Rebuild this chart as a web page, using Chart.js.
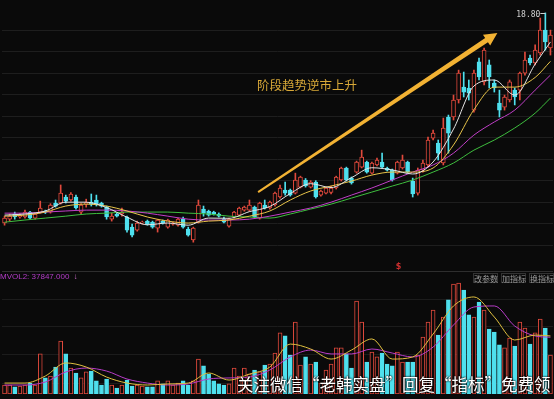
<!DOCTYPE html>
<html lang="zh-CN">
<head>
<meta charset="utf-8">
<script src="https://cdn.jsdelivr.net/npm/chart.js@4.4.1/dist/chart.umd.min.js"></script>
<style>
  html, body { margin: 0; padding: 0; background: #0a0a0a; }
  #wrap { position: relative; width: 554px; height: 399px; overflow: hidden; background: #0a0a0a; }
  #priceChart { position: absolute; left: 0; top: 0; }
  #volChart { position: absolute; left: 0; top: 271px; }
  .lbl { position: absolute; white-space: nowrap; }
  #volLabel { left: 0; top: 272px; font: 8px "Liberation Sans", sans-serif; color: #b43cc8; }
  #volLabel span { color: #d070d0; margin-left: 4px; }
  .btn { top: 273px; width: 25px; height: 10px; text-align: center; font: 8px/10px "Noto Sans CJK SC"; color: #9a9a9a; border: 1px solid #333; box-sizing: border-box; }
  #watermark { left: 237px; top: 372px; font: 16.5px "Noto Sans CJK SC"; color: #fff; text-shadow: 0 0 2px #000, 0 0 2px #000; }
</style>
</head>
<body>
<div id="wrap">
  <canvas id="priceChart" width="554" height="271"></canvas>
  <canvas id="volChart" width="554" height="128"></canvas>
  <div class="lbl" id="volLabel">MVOL2: 37847.000<span>↓</span></div>
  <div class="lbl btn" style="left:473px">改参数</div>
  <div class="lbl btn" style="left:501px">加指标</div>
  <div class="lbl btn" style="left:529px">换指标</div>
  <div class="lbl" id="watermark">关注微信“老韩实盘”回复“指标”免费领</div>
</div>
<script>
const days = Array.from({ length: 108 }, (_, i) => "D" + (i + 1));

const open = [9.03,9.21,9.45,9.31,9.31,9.54,9.26,9.54,9.58,9.54,
  9.96,9.96,10.24,10.10,10.24,9.54,9.91,10.00,10.10,9.96,
  9.77,9.21,9.45,9.45,9.31,8.84,8.70,9.03,9.12,9.07,
  8.79,9.12,8.84,8.98,8.93,9.21,8.75,8.24,9.07,9.68,
  9.58,9.54,9.45,9.21,8.89,9.31,9.40,9.63,9.63,9.77,
  9.26,9.87,9.73,9.87,10.24,10.56,10.56,10.42,10.70,11.03,
  10.70,10.94,10.33,10.42,10.45,10.66,11.03,11.59,11.12,11.40,
  11.63,11.86,11.35,11.73,11.86,11.59,11.49,11.35,11.59,11.86,
  10.98,10.42,11.49,11.73,12.98,12.75,11.82,13.96,13.96,14.75,
  15.35,15.31,14.28,16.52,15.59,16.38,15.54,14.61,14.42,14.75,
  15.21,15.21,16.00,16.70,16.47,16.94,18.00,17.17];

const high = [9.35,9.45,9.54,9.47,9.63,9.58,9.50,10.05,9.63,9.93,
  10.10,10.80,10.33,10.45,10.33,9.93,10.14,10.38,10.33,10.00,
  9.82,9.49,9.50,9.73,9.35,8.98,9.12,9.12,9.17,9.12,
  9.21,9.17,9.21,9.07,9.26,9.31,8.84,8.84,10.10,9.82,
  9.63,9.58,9.50,9.31,9.26,9.58,9.77,9.82,10.10,9.82,
  10.00,10.10,10.05,10.47,10.80,10.94,10.61,11.35,11.21,11.10,
  11.00,11.00,10.56,10.70,10.75,11.21,11.63,11.63,11.17,11.91,
  12.42,11.91,11.86,12.05,12.28,11.63,11.54,11.91,12.19,11.91,
  11.12,11.59,11.96,13.03,13.35,12.89,13.91,14.05,14.98,16.14,
  16.05,15.68,16.14,16.70,17.17,16.61,15.68,15.21,14.98,15.68,
  15.31,16.05,16.98,16.84,17.31,18.56,18.80,18.00];

const low = [8.93,9.12,9.21,9.26,9.26,9.21,9.21,9.49,9.47,9.49,
  9.77,9.91,9.96,10.05,9.68,9.45,9.77,9.82,9.82,9.77,
  9.21,9.12,9.31,9.35,8.61,8.38,8.65,8.98,8.93,8.79,
  8.61,8.98,8.79,8.93,8.89,8.79,8.42,8.14,9.03,9.35,
  9.35,9.40,9.31,9.03,8.84,9.26,9.35,9.58,9.58,9.26,
  9.21,9.68,9.68,9.82,10.19,10.33,10.28,10.38,10.66,10.70,
  10.66,10.19,10.28,10.38,10.38,10.61,10.98,10.98,10.84,11.35,
  11.59,11.35,11.31,11.68,11.59,11.45,10.98,11.31,11.54,11.35,
  10.24,10.33,11.40,11.63,12.89,11.96,11.73,12.28,13.82,14.61,
  14.89,14.75,14.19,15.68,15.45,15.31,15.12,13.96,14.28,14.66,
  14.52,14.75,15.91,16.38,16.38,16.84,17.07,16.84];

const close = [9.26,9.35,9.31,9.40,9.54,9.26,9.45,9.73,9.54,9.87,
  9.82,10.42,10.05,10.38,9.73,9.87,9.98,9.91,9.91,9.82,
  9.31,9.35,9.35,9.54,8.70,8.47,9.03,9.07,8.98,8.84,
  9.17,9.03,9.17,9.03,9.21,8.84,8.47,8.79,9.87,9.49,
  9.40,9.45,9.35,9.07,9.21,9.54,9.73,9.77,9.87,9.31,
  9.96,9.73,10.00,10.42,10.66,10.42,10.33,11.03,11.17,10.75,
  10.94,10.24,10.52,10.66,10.66,11.17,11.59,11.03,10.89,11.86,
  12.10,11.40,11.82,11.96,11.63,11.49,11.03,11.86,11.96,11.40,
  10.38,11.49,11.82,12.89,13.21,12.28,13.45,13.21,14.75,16.00,
  15.12,15.07,16.00,15.82,17.07,15.82,15.31,14.28,14.89,15.59,
  14.89,16.00,16.61,16.47,17.07,18.00,17.45,17.77];

const volume = [6000,6000,4700,5300,6000,7300,6000,26700,10700,12000,
  18000,35300,26700,17300,14000,10700,14700,15300,8700,6000,
  10000,6000,4000,6000,9300,5300,6000,5300,4700,4700,
  8700,6700,8700,6000,7300,8700,6000,8700,23300,18700,
  13300,8700,6700,6000,6700,17300,12000,17300,13300,16000,
  14700,19300,20000,27300,40700,38700,26000,48000,19300,24700,
  20000,21300,7300,16000,20000,30700,30700,26700,17300,62000,
  48000,21300,28000,24700,27300,20000,18700,28000,21300,21300,
  21300,26000,38000,48000,56000,39300,51300,62700,73300,74000,
  69300,52700,51300,61300,56000,43300,41300,32700,30700,37300,
  32000,48000,44000,33300,40700,50000,44000,26000];

// moving-average lines, read at these day positions
const maIdx = [0,4,8,12,16,20,24,28,32,36,40,44,48,52,56,60,64,68,72,76,80,84,88,92,96,100,104,107];
const ma5  = [9.40,9.45,9.59,10.00,10.00,9.75,9.30,8.95,9.03,8.93,9.26,9.25,9.56,9.80,10.40,10.86,10.68,11.14,11.60,11.50,11.31,11.87,13.40,15.40,15.68,14.98,16.42,17.45];
const ma10 = [9.35,9.40,9.54,9.82,9.91,9.82,9.59,9.31,9.12,9.03,9.12,9.17,9.35,9.59,10.10,10.52,10.75,10.98,11.26,11.40,11.40,11.59,12.66,14.30,15.35,15.35,15.80,16.55];
const ma20 = [9.49,9.49,9.54,9.59,9.63,9.63,9.59,9.49,9.35,9.21,9.17,9.17,9.21,9.35,9.54,9.73,10.00,10.33,10.66,11.03,11.40,11.73,12.28,13.12,13.73,14.28,15.21,15.91];
const ma60 = [9.07,9.17,9.26,9.35,9.45,9.49,9.54,9.54,9.54,9.49,9.45,9.35,9.31,9.26,9.45,9.68,9.91,10.19,10.47,10.75,11.03,11.40,11.82,12.42,12.89,13.45,14.14,14.84];
const volMa5  = [7300,7300,12000,20700,18000,11300,7300,6000,6700,7300,14000,9300,13300,18000,33300,30000,23300,29300,36700,23300,24700,40000,58700,64700,51300,36000,39300,38700];
const volMa10 = [6000,6000,8000,14700,17300,15300,10000,7300,6000,6700,10000,10700,11300,16000,24700,29300,26700,26700,30000,27300,24700,31300,46000,58000,58700,45300,38700,37847];

const volGridLines = [7300, 26000, 44700, 63300, 82000];

const RED = "#e0493c";
const CYAN = "#4fe0ee";
const BG = "#0a0a0a";
const up = close.map((c, i) => c >= open[i]);

function sparse(vals) {
  const out = days.map(() => null);
  maIdx.forEach((k, j) => { out[k] = vals[j]; });
  return out;
}

function maLine(vals, color) {
  return {
    type: "line", data: sparse(vals), borderColor: color, borderWidth: 1,
    pointRadius: 0, spanGaps: true, cubicInterpolationMode: "monotone", order: 0
  };
}

// arrow, caption, high label
const priceNotes = {
  id: "priceNotes",
  afterDatasetsDraw(chart) {
    const { ctx, scales: { x, y } } = chart;
    ctx.save();

    const x0 = x.getPixelForValue(49.7), y0 = y.getPixelForValue(10.47);
    const x1 = x.getPixelForValue(96.6), y1 = y.getPixelForValue(17.87);
    const len = Math.hypot(x1 - x0, y1 - y0);
    const dx = (x1 - x0) / len, dy = (y1 - y0) / len;
    const nx = -dy, ny = dx;
    const headLen = 13, headW = 6.5;
    const bx = x1 - dx * headLen, by = y1 - dy * headLen;
    ctx.fillStyle = "#f2b233";
    ctx.beginPath();
    ctx.moveTo(x0 + nx * 1, y0 + ny * 1);
    ctx.lineTo(bx + nx * 2.5, by + ny * 2.5);
    ctx.lineTo(bx + nx * headW, by + ny * headW);
    ctx.lineTo(x1, y1);
    ctx.lineTo(bx - nx * headW, by - ny * headW);
    ctx.lineTo(bx - nx * 2.5, by - ny * 2.5);
    ctx.lineTo(x0 - nx * 1, y0 - ny * 1);
    ctx.closePath();
    ctx.fill();

    ctx.font = '12.5px "Noto Sans CJK SC"';
    ctx.fillStyle = "#d8a838";
    ctx.textBaseline = "middle";
    ctx.textAlign = "left";
    ctx.fillText("阶段趋势逆市上升", x.getPixelForValue(49.5), y.getPixelForValue(15.45));

    const maxHigh = Math.max(...high);
    const hi = high.indexOf(maxHigh);
    const hx = x.getPixelForValue(hi), hy = y.getPixelForValue(maxHigh);
    ctx.strokeStyle = "#d0d0d0";
    ctx.lineWidth = 1;
    ctx.beginPath();
    ctx.moveTo(hx - 5, Math.round(hy) + 0.5);
    ctx.lineTo(hx, Math.round(hy) + 0.5);
    ctx.stroke();
    ctx.font = '8px "DejaVu Sans Mono"';
    ctx.fillStyle = "#d0d0d0";
    ctx.textAlign = "right";
    ctx.fillText(maxHigh.toFixed(2), hx - 5, hy + 2);

    ctx.font = 'bold 8px "DejaVu Sans"';
    ctx.fillStyle = "#d03030";
    ctx.textAlign = "center";
    ctx.fillText("$", x.getPixelForValue(77.2), y.getPixelForValue(7.0));
    ctx.restore();
  }
};

new Chart(document.getElementById("priceChart"), {
  type: "bar",
  data: {
    labels: days,
    datasets: [
      maLine(ma5, "#e6e6e6"),
      maLine(ma10, "#e8c44a"),
      maLine(ma20, "#c13fc8"),
      maLine(ma60, "#3fbf3f"),
      {
        data: days.map((_, i) => [open[i], close[i]]),
        backgroundColor: up.map(u => u ? BG : CYAN),
        borderColor: up.map(u => u ? RED : CYAN),
        borderWidth: 1, borderSkipped: false, barThickness: 4, grouped: false, order: 1
      },
      {
        data: days.map((_, i) => [low[i], high[i]]),
        backgroundColor: up.map(u => u ? RED : CYAN),
        borderWidth: 0, barThickness: 1, grouped: false, order: 2
      }
    ]
  },
  options: {
    responsive: false, animation: false, devicePixelRatio: 1,
    layout: { padding: { left: 2, right: 1, top: 0, bottom: 0 } },
    plugins: { legend: { display: false }, tooltip: { enabled: false } },
    scales: {
      x: { display: false },
      y: {
        min: 6.8, max: 19.4,
        border: { display: false },
        grid: { drawTicks: false, color: c => (c.tick.value > 18.5 || c.tick.value < 7.5) ? "transparent" : "#1e1e1e" },
        ticks: { display: false, stepSize: 1, includeBounds: false }
      }
    }
  },
  plugins: [priceNotes]
});

new Chart(document.getElementById("volChart"), {
  type: "bar",
  data: {
    labels: days,
    datasets: [
      maLine(volMa5, "#e0c040"),
      maLine(volMa10, "#b83cc8"),
      {
        data: volume,
        backgroundColor: up.map(u => u ? BG : CYAN),
        borderColor: up.map(u => u ? RED : CYAN),
        borderWidth: 1, borderSkipped: false, barThickness: 4, grouped: false, order: 1
      }
    ]
  },
  options: {
    responsive: false, animation: false, devicePixelRatio: 1,
    layout: { padding: { left: 2, right: 1, top: 0, bottom: 5 } },
    plugins: { legend: { display: false }, tooltip: { enabled: false } },
    scales: {
      x: { display: false },
      y: {
        min: 0, max: 82000,
        afterBuildTicks: s => { s.ticks = volGridLines.map(v => ({ value: v })); },
        border: { display: false },
        grid: { drawTicks: false, color: c => c.tick.value === 82000 ? "#2e2e2e" : "#1c1c1c" },
        ticks: { display: false }
      }
    }
  }
});
</script>
</body>
</html>
